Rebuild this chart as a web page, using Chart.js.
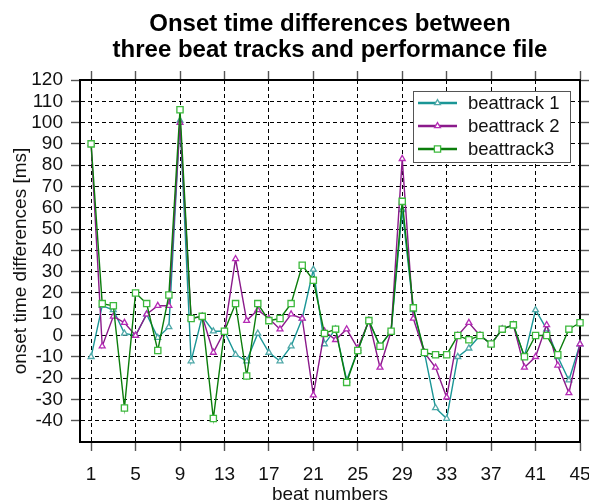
<!DOCTYPE html>
<html><head><meta charset="utf-8">
<script src="https://cdn.jsdelivr.net/npm/chart.js@4.4.0/dist/chart.umd.min.js"></script>
<style>html,body{margin:0;padding:0;background:#fff;}#wrap{width:589px;height:504px;}</style>
</head><body><div id="wrap"><canvas id="c" width="589" height="504"></canvas></div>
<script>
const beats = [1,2,3,4,5,6,7,8,9,10,11,12,13,14,15,16,17,18,19,20,21,22,23,24,25,26,27,28,29,30,31,32,33,34,35,36,37,38,39,40,41,42,43,44,45];
const beattrack1 = [-10,14,12,1,0,10,-1,4,101,-12,9,2,2,-9,-12,1,-8,-12,-5,8,31,-4,3,-21,-7,7,-5,2,59,12,-8,-34,-39,-10,-6,0,-4,3,5,-10,12,3,-10,-21,-4];
const beattrack2 = [90,-5,9,6,0,10,14,14,100,8,9,-8,2,36,7,12,8,3,10,8,-28,2,-2,3,-6,7,-15,2,83,8,-8,-15,-29,0,6,0,-4,3,5,-15,-10,5,-14,-27,-4];
const beattrack3 = [90,15,14,-34,20,15,-7,19,106,8,9,-39,2,15,-19,15,7,8,15,33,26,1,3,-22,-7,7,-5,2,63,13,-8,-9,-9,0,-2,0,-4,3,5,-10,0,0,-9,3,6];
const seriesNames = ['beattrack 1','beattrack 2','beattrack3'];
const xTickValues = [1,5,9,13,17,21,25,29,33,37,41,45];
const yTickValues = [-40,-30,-20,-10,0,10,20,30,40,50,60,70,80,90,100,110,120];
const titleLines = ['Onset time differences between','three beat tracks and performance file'];
const xTitle = 'beat numbers';
const yTitle = 'onset time differences [ms]';

const FONT = "'Liberation Sans', Arial, Helvetica, sans-serif";
const lineColors = ['#1a9696','#8b1a8b','#0b7d0b'];
const markColors = ['#4fa8a8','#b52bb5','#3cb93c'];
const markStyles = ['triangle','triangle','rect'];
const markRadius = [3.4,3.4,4.4];
const toPts = ys => beats.map((b,i)=>({x:b, y:ys[i]}));
const series = [beattrack1, beattrack2, beattrack3];

const datasets = series.map((ys,i)=>({
  label: seriesNames[i],
  data: toPts(ys),
  xAxisID:'x', yAxisID:'y',
  borderColor: lineColors[i],
  borderWidth: 1.4,
  pointStyle: markStyles[i],
  pointRadius: markRadius[i],
  pointBorderColor: markColors[i],
  pointBackgroundColor: '#fff',
  pointBorderWidth: 1.3,
  tension: 0,
  clip: false,
  order: 3 - i
}));

function drawMarker(ctx, style, x, y, r, color) {
  ctx.save();
  ctx.strokeStyle = color; ctx.fillStyle = '#fff'; ctx.lineWidth = 1.3;
  ctx.beginPath();
  if (style === 'rect') {
    const s = r * Math.SQRT1_2;
    ctx.rect(x - s, y - s, 2*s, 2*s);
  } else {
    ctx.moveTo(x, y - r);
    ctx.lineTo(x + r*Math.cos(Math.PI/6), y + r*0.5);
    ctx.lineTo(x - r*Math.cos(Math.PI/6), y + r*0.5);
    ctx.closePath();
  }
  ctx.fill(); ctx.stroke();
  ctx.restore();
}

const legendBox = {
  id: 'legendBox',
  afterDraw(chart) {
    const ctx = chart.ctx;
    const x0 = 413, y0 = 91, w = 157, h = 71;
    ctx.save();
    ctx.fillStyle = '#fff';
    ctx.fillRect(x0, y0, w, h);
    ctx.strokeStyle = '#555'; ctx.lineWidth = 1;
    ctx.strokeRect(x0 + 0.5, y0 + 0.5, w, h);
    const rows = [103, 126, 149];
    seriesNames.forEach((name, i) => {
      const yy = rows[i];
      ctx.strokeStyle = lineColors[i]; ctx.lineWidth = 2.6;
      ctx.beginPath(); ctx.moveTo(418, yy); ctx.lineTo(457, yy); ctx.stroke();
      drawMarker(ctx, markStyles[i], 437.5, yy, markRadius[i], markColors[i]);
      ctx.fillStyle = '#111';
      ctx.font = '18.5px ' + FONT;
      ctx.textAlign = 'left'; ctx.textBaseline = 'middle';
      ctx.fillText(name, 468, yy + 1);
    });
    ctx.restore();
  }
};

const setXTicks = s => { s.ticks = xTickValues.map(v => ({value: v})); };
const setYTicks = s => { s.ticks = yTickValues.map(v => ({value: v})); };
const tickGrid = {color:'#000', lineWidth:1, tickLength:9, tickColor:'#555', tickWidth:1.4};

new Chart(document.getElementById('c'), {
  type: 'line',
  data: { datasets },
  options: {
    responsive: false, animation: false, devicePixelRatio: 1,
    layout: { padding: 0 },
    plugins: { legend: {display:false}, title: {display:false}, tooltip: {enabled:false} },
    scales: {
      x: {
        type:'linear', position:'bottom', min:0, max:45,
        afterBuildTicks: setXTicks,
        afterFit: s => { s.height = 62; s.paddingLeft = 0; s.paddingRight = 0; },
        grid: Object.assign({}, tickGrid),
        border: {display:true, color:'#000', width:2, dash:[4,3]},
        ticks: {font:{family:FONT, size:19}, color:'#111', padding:12, maxRotation:0, autoSkip:false},
        title: {display:true, text:xTitle, font:{family:FONT, size:19, lineHeight:1.0}, color:'#111', padding:{top:0, bottom:0}}
      },
      x2: {
        type:'linear', position:'top', min:0, max:45,
        afterBuildTicks: setXTicks,
        afterFit: s => { s.height = 80; s.paddingLeft = 0; s.paddingRight = 0; },
        grid: Object.assign({}, tickGrid, {drawOnChartArea:false}),
        border: {display:true, color:'#000', width:2},
        ticks: {display:false},
        title: {display:true, text:titleLines, font:{family:FONT, size:24, weight:'bold', lineHeight:26/24}, color:'#000', padding:{top:11, bottom:0}}
      },
      y: {
        type:'linear', position:'left', min:-50, max:120,
        afterBuildTicks: setYTicks,
        afterFit: s => { s.width = 80; s.paddingTop = 0; s.paddingBottom = 0; },
        grid: Object.assign({}, tickGrid),
        border: {display:true, color:'#000', width:2, dash:[4,3]},
        ticks: {font:{family:FONT, size:19}, color:'#111', padding:8, autoSkip:false},
        title: {display:true, text:yTitle, font:{family:FONT, size:19, lineHeight:1.2}, color:'#111', padding:{top:9, bottom:0}}
      },
      y2: {
        type:'linear', position:'right', min:-50, max:120,
        afterBuildTicks: setYTicks,
        afterFit: s => { s.width = 9; s.paddingTop = 0; s.paddingBottom = 0; },
        grid: Object.assign({}, tickGrid, {drawOnChartArea:false}),
        border: {display:true, color:'#000', width:2},
        ticks: {display:false, autoSkip:false}
      }
    }
  },
  plugins: [legendBox]
});
</script>
</body></html>
